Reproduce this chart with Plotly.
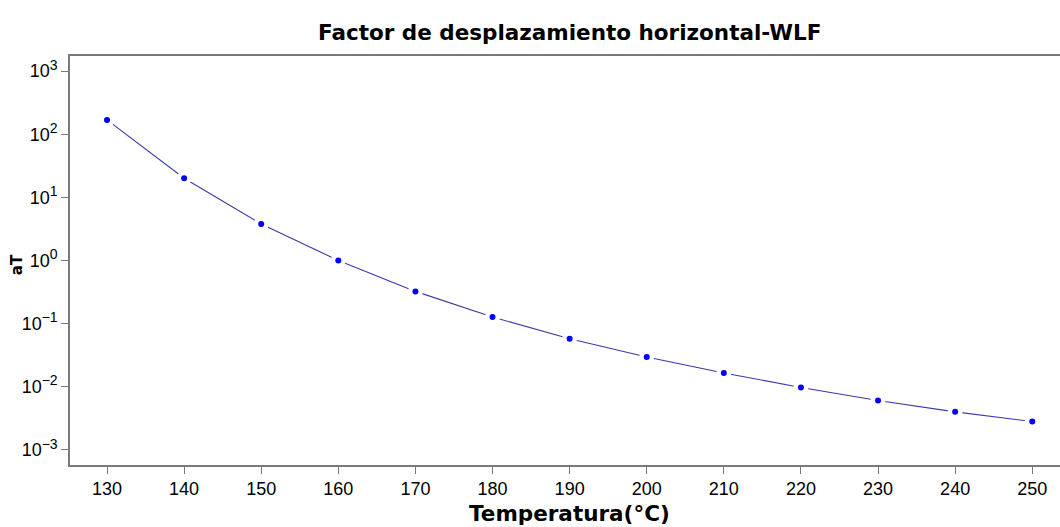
import plotly.graph_objects as go

# Data
temperatura = [130, 140, 150, 160, 170, 180, 190, 200, 210, 220, 230, 240, 250]
aT = [169, 20.1, 3.8, 1.0, 0.324, 0.127, 0.0575, 0.0295, 0.0165, 0.00973, 0.00605, 0.0040, 0.00281]

x_ticks = [130, 140, 150, 160, 170, 180, 190, 200, 210, 220, 230, 240, 250]
y_ticks = [1e-3, 1e-2, 1e-1, 1e0, 1e1, 1e2, 1e3]
y_exponents = ["\u22123", "\u22122", "\u22121", "0", "1", "2", "3"]
y_ticktext = ["10<sup><span style=\"font-size:14px\">%s</span></sup>" % e for e in y_exponents]

FONT = "Liberation Sans, Arial, sans-serif"
BOLD_FONT = "DejaVu Sans, Liberation Sans, sans-serif"
AXIS_COL = "#7a7a7a"

fig = go.Figure()
fig.add_trace(go.Scatter(x=temperatura, y=aT, mode="lines",
                         line=dict(color="#3a3aa8", width=1.1),
                         hoverinfo="skip", showlegend=False))
fig.add_trace(go.Scatter(x=temperatura, y=aT, mode="markers",
                         marker=dict(color="white", size=15, line=dict(width=0)),
                         hoverinfo="skip", showlegend=False))
fig.add_trace(go.Scatter(x=temperatura, y=aT, mode="markers",
                         marker=dict(color="#0000ff", size=6, line=dict(width=0)),
                         showlegend=False))

fig.update_layout(
    width=1060, height=527,
    margin=dict(l=70, r=0, t=56, b=62),
    paper_bgcolor="white", plot_bgcolor="white",
    font=dict(family=FONT, color="black"),
    xaxis=dict(range=[125.2, 253.6], tickvals=x_ticks, ticks="outside",
               ticklen=7, tickcolor=AXIS_COL, tickwidth=1,
               showline=True, linecolor=AXIS_COL, linewidth=1.5, mirror=True,
               showgrid=False, zeroline=False, tickfont=dict(size=18)),
    yaxis=dict(type="log", range=[-3.24, 3.24], tickvals=y_ticks, ticktext=y_ticktext,
               ticks="outside", ticklen=7, tickcolor=AXIS_COL, tickwidth=1,
               showline=True, linecolor=AXIS_COL, linewidth=1.5,
               showgrid=False, zeroline=False, tickfont=dict(size=18)),
    annotations=[
        dict(text="<b>Factor de desplazamiento horizontal-WLF</b>", xref="paper", yref="paper",
             x=0.505, y=1.057, xanchor="center", yanchor="middle", showarrow=False,
             font=dict(size=21.5, family=BOLD_FONT, color="black")),
        dict(text="<b>Temperatura(°C)</b>", xref="paper", yref="paper",
             x=0.505, y=-0.119, xanchor="center", yanchor="middle", showarrow=False,
             font=dict(size=21.5, family=BOLD_FONT, color="black")),
        dict(text="<b>aT</b>", xref="paper", yref="paper", textangle=-90,
             x=-0.054, y=0.49, xanchor="center", yanchor="middle", showarrow=False,
             font=dict(size=15, family=BOLD_FONT, color="black")),
    ],
)

fig.write_html("out.html")
